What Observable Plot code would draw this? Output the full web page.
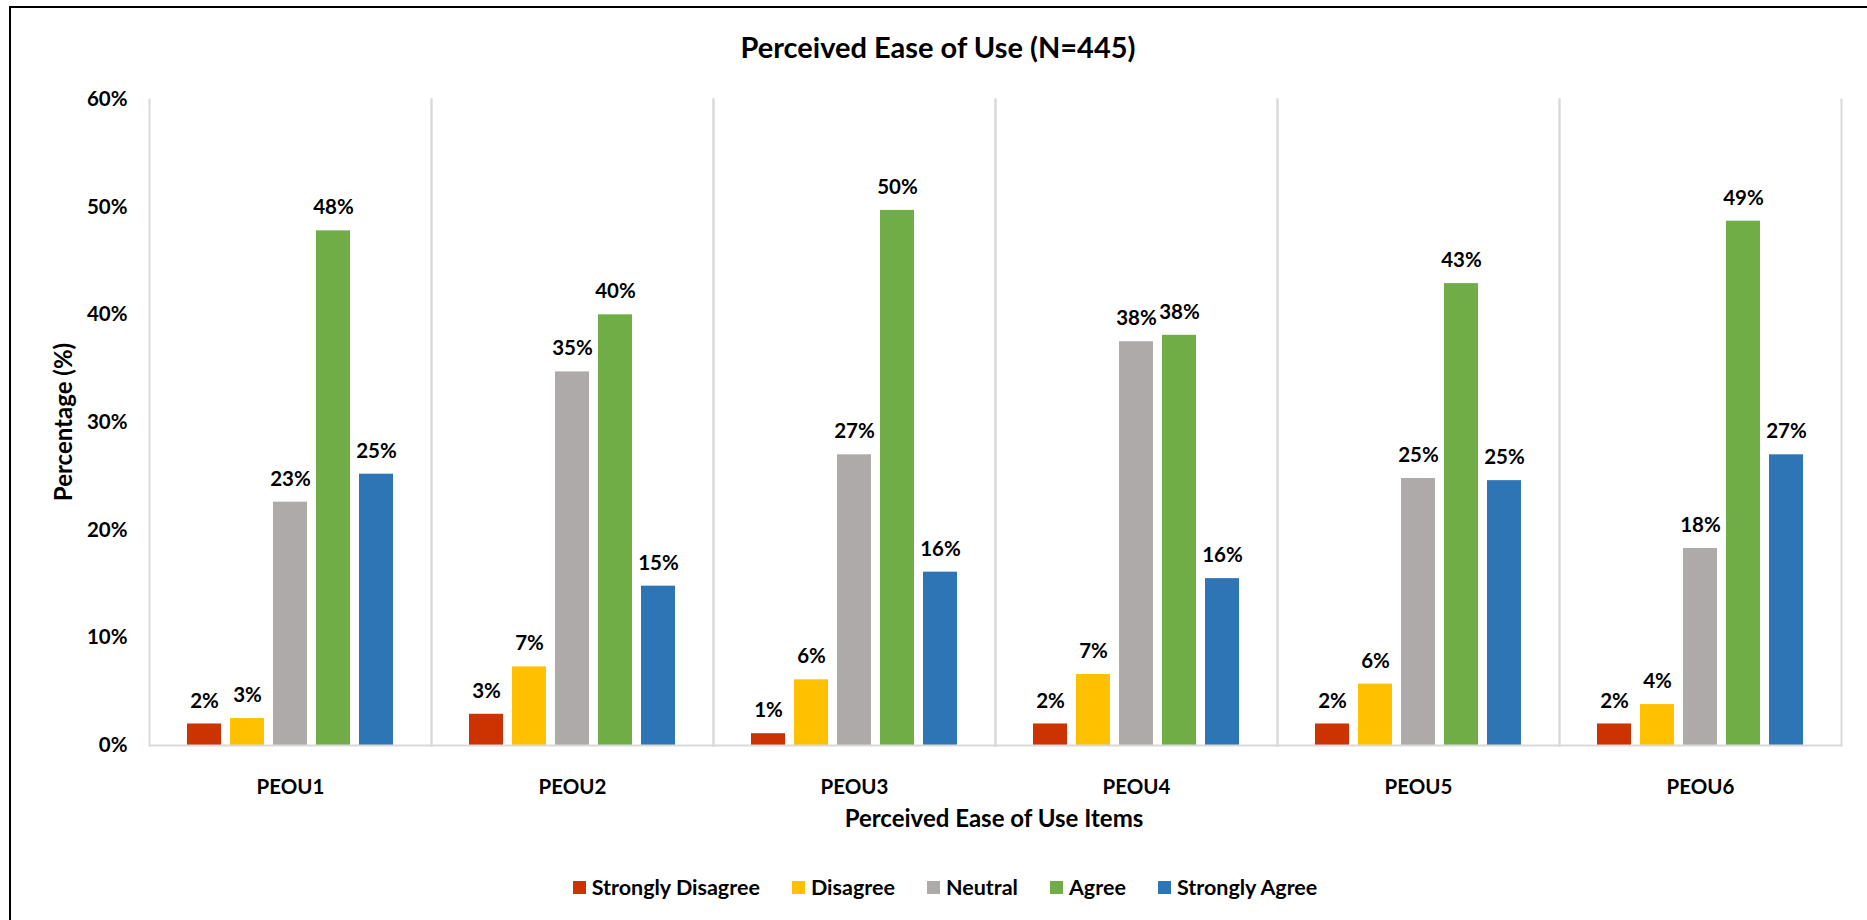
<!DOCTYPE html>
<html>
<head>
<meta charset="utf-8">
<script src="https://cdn.jsdelivr.net/npm/d3@7"></script>
<script src="https://cdn.jsdelivr.net/npm/@observablehq/plot@0.6"></script>
<style>
  html, body { margin: 0; padding: 0; background: #fff; overflow: hidden; width: 1867px; height: 920px; }
  body { position: relative; font-family: Lato, "Open Sans", sans-serif; font-weight: bold; color: #000; }
  #border { position: absolute; left: 9px; top: 6px; width: 1900px; height: 1000px; border: 2px solid #000; box-sizing: border-box; }
  #title { position: absolute; left: 738px; width: 400px; top: 30px; text-align: center; font-size: 29px; font-weight: bold; line-height: 34px; white-space: nowrap; }
  #chart { position: absolute; left: 0; top: 80px; }
  #ylabel { position: absolute; left: 63px; top: 422px; transform: translate(-50%, -50%) rotate(-90deg); font-size: 24px; line-height: 28px; white-space: nowrap; }
  #xlabel { position: absolute; left: 794px; width: 400px; top: 804px; text-align: center; font-size: 24px; line-height: 28px; white-space: nowrap; }
  #legend { position: absolute; left: 0; top: 875px; width: 1890px; display: flex; justify-content: center; gap: 32px; font-size: 21.5px; line-height: 24px; }
  .item { display: flex; align-items: center; gap: 6px; }
  .sw { width: 13px; height: 13px; display: inline-block; }
</style>
</head>
<body>
<div id="border"></div>
<div id="title">Perceived Ease of Use (N=445)</div>
<div id="chart"></div>
<div id="ylabel">Percentage (%)</div>
<div id="xlabel">Perceived Ease of Use Items</div>
<div id="legend"></div>
<script>
const items = ["PEOU1", "PEOU2", "PEOU3", "PEOU4", "PEOU5", "PEOU6"];
const categories = ["Strongly Disagree", "Disagree", "Neutral", "Agree", "Strongly Agree"];
const colors = ["#CC3300", "#FFC000", "#AEAAAA", "#70AD47", "#2E75B6"];
const stronglyDisagree = [2.0, 2.9, 1.1, 2.0, 2.0, 2.0];
const disagree         = [2.5, 7.3, 6.1, 6.6, 5.7, 3.8];
const neutral          = [22.6, 34.7, 27.0, 37.5, 24.8, 18.3];
const agree            = [47.8, 40.0, 49.7, 38.1, 42.9, 48.7];
const stronglyAgree    = [25.2, 14.8, 16.1, 15.5, 24.6, 27.0];
const yTicks = [0, 10, 20, 30, 40, 50, 60];

const series = [stronglyDisagree, disagree, neutral, agree, stronglyAgree];
const data = [];
items.forEach((item, i) => {
  categories.forEach((cat, j) => {
    data.push({item, cat, value: series[j][i]});
  });
});

const chart = Plot.plot({
  width: 1867,
  height: 740,
  marginTop: 19,
  marginBottom: 75,
  marginLeft: 149,
  marginRight: 26,
  style: {fontFamily: "Lato, 'Open Sans', sans-serif", fontSize: "20px", fontWeight: "bold", color: "#000", background: "transparent"},
  fx: {domain: items, padding: 0, label: null},
  x: {domain: categories, paddingInner: 0.21, paddingOuter: 0.88, axis: null},
  y: {domain: [0, 60], label: null},
  color: {domain: categories, range: colors},
  marks: [
    Plot.frame({anchor: "left", stroke: "#d9d9d9", strokeWidth: 2, strokeOpacity: 1}),
    Plot.frame({anchor: "right", stroke: "#d9d9d9", strokeWidth: 2, strokeOpacity: 1}),
    Plot.barY(data, {fx: "item", x: "cat", y: "value", fill: "cat"}),
    Plot.ruleY([0], {stroke: "#d9d9d9", strokeWidth: 2}),
    Plot.text(data, {fx: "item", x: "cat", y: "value", text: d => Math.round(d.value) + "%", dy: -23, fontSize: 20.5, fontWeight: "bold", fill: "#000"}),
    Plot.axisY(yTicks, {tickSize: 0, tickPadding: 22, tickFormat: d => d + "%", fontSize: 20.5, fontWeight: "bold", label: null}),
    Plot.axisFx({anchor: "bottom", tickSize: 0, tickPadding: 34, fontSize: 20.5, fontWeight: "bold", label: null})
  ]
});
document.getElementById("chart").appendChild(chart);

const legend = document.getElementById("legend");
categories.forEach((c, i) => {
  const it = document.createElement("div");
  it.className = "item";
  const sw = document.createElement("span");
  sw.className = "sw";
  sw.style.background = colors[i];
  const t = document.createElement("span");
  t.textContent = c;
  it.appendChild(sw); it.appendChild(t);
  legend.appendChild(it);
});
</script>
</body>
</html>
